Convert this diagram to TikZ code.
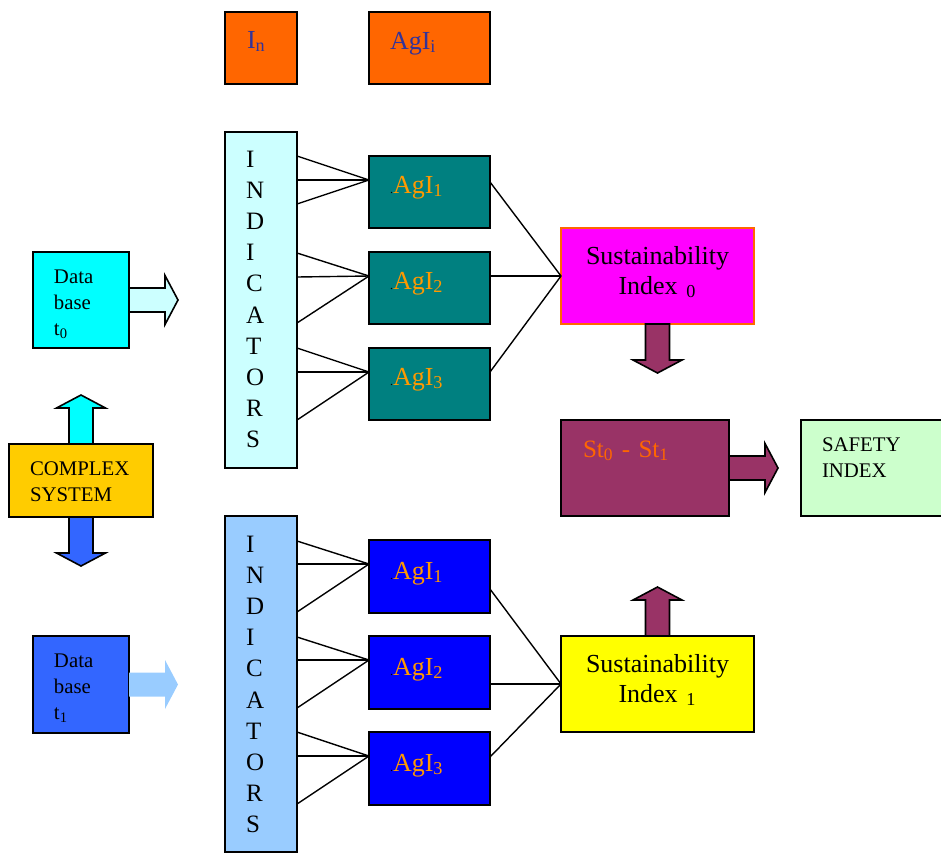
\documentclass[tikz,border=0pt]{standalone}
\usepackage{fontspec}
\setmainfont{Liberation Serif}
\usetikzlibrary{positioning}

\definecolor{inOrange}{HTML}{FF6600}
\definecolor{inBlue}{HTML}{333399}
\definecolor{indCyan}{HTML}{CCFFFF}
\definecolor{indBlue}{HTML}{99CCFF}
\definecolor{agTeal}{HTML}{008080}
\definecolor{agBlue}{HTML}{0000FF}
\definecolor{agGold}{HTML}{FF9900}
\definecolor{siMagenta}{HTML}{FF00FF}
\definecolor{siYellow}{HTML}{FFFF00}
\definecolor{siMaroon}{HTML}{993366}
\definecolor{safeGreen}{HTML}{CCFFCC}
\definecolor{dbCyan}{HTML}{00FFFF}
\definecolor{dbBlue}{HTML}{3366FF}
\definecolor{cplxGold}{HTML}{FFCC00}

\newcommand{\tinydot}{{\color{black}\fontsize{6}{6}\selectfont.}}

\begin{document}
\begin{tikzpicture}[x = 0.5pt, y = -0.5pt,
    panel/.style = { draw, line width = .8pt, anchor = north west, align = left, inner ysep = 0pt, outer sep = 0pt },
    big/.style = { font = \fontsize{13}{15}\selectfont },
    small/.style = { font = \fontsize{10.4}{13}\selectfont },
    letters/.style = { font = \fontsize{12.5}{15.6}\selectfont },
    agi/.style = { panel, text = agGold, big, inner xsep = 10.5pt, text width = 39.5pt, text height = 18.5pt, text depth = 17.5pt },
    sindex/.style = { panel, big, align = center, inner xsep = 4pt, text width = 88.5pt, text height = 18pt, text depth = 30pt },
    link/.style = { line width = .7pt },
    fat arrow/.pic = { \path[pic actions, line width = .8pt] (0,-12) -- (36,-12) -- (36,-24.5) -- (49,0) -- (36,24.5) -- (36,12) -- (0,12) -- cycle; }
  ]
    \useasboundingbox (0,0) rectangle (941,852);

    % legend
    \node [panel, fill = inOrange, text = inBlue, big, inner xsep = 11pt, text width = 14pt, text height = 18pt, text depth = 18pt] (inBox) at (225,12) { I\textsubscript{n} };
    \node [panel, fill = inOrange, text = inBlue, big, inner xsep = 10.5pt, text width = 39.5pt, text height = 18.5pt, text depth = 17.5pt, right = 36pt of inBox] (agiBox) { AgI\textsubscript{i} };

    % left column
    \node [panel, fill = dbCyan, small, inner xsep = 10.5pt, text width = 27pt, text height = 15.5pt, text depth = 32.5pt] (db0) at (33,252) { Data\\base\\t\textsubscript{0} };
    \node [panel, fill = cplxGold, small, inner xsep = 10.5pt, text width = 51pt, text height = 15.5pt, text depth = 21pt] (cplx) at (9,444) { COMPLEX\\SYSTEM };
    \node [panel, fill = dbBlue, small, inner xsep = 10.5pt, text width = 27pt, text height = 15.5pt, text depth = 33pt] (db1) at (33,636) { Data\\base\\t\textsubscript{1} };

    % indicators
    \node [panel, fill = indCyan, letters, inner xsep = 10.5pt, text width = 15pt, text height = 17.5pt, text depth = 150.5pt] (ind0) at (225,132) { I\\N\\D\\I\\C\\A\\T\\O\\R\\S };
    \node [panel, fill = indBlue, letters, inner xsep = 10.5pt, text width = 15pt, text height = 18pt, text depth = 150pt, below = 24pt of ind0] (ind1) { I\\N\\D\\I\\C\\A\\T\\O\\R\\S };

    % aggregated indicators
    \node [agi, fill = agTeal] (agA0) at (369,156) { \tinydot AgI\textsubscript{1} };
    \node [agi, fill = agTeal, below = 12pt of agA0] (agB0) { \tinydot AgI\textsubscript{2} };
    \node [agi, fill = agTeal, below = 12pt of agB0] (agC0) { \tinydot AgI\textsubscript{3} };
    \node [agi, fill = agBlue, text height = 19.5pt, text depth = 17pt] (agA1) at (369,540) { \tinydot AgI\textsubscript{1} };
    \node [agi, fill = agBlue, text height = 19.5pt, text depth = 17pt, below = 11.5pt of agA1] (agB1) { \tinydot AgI\textsubscript{2} };
    \node [agi, fill = agBlue, text height = 19.5pt, text depth = 17pt, below = 11.5pt of agB1] (agC1) { \tinydot AgI\textsubscript{3} };

    % indices
    \node [sindex, fill = siMagenta, draw = inOrange] (si0) at (561,228) { Sustainability\\Index \textsubscript{0} };
    \node [sindex, fill = siYellow] (si1) at (561,636) { Sustainability\\Index \textsubscript{1} };
    \node [panel, fill = siMaroon, text = inOrange, font = \fontsize{12.5}{15}\selectfont, inner xsep = 11pt, text width = 62pt, text height = 18.5pt, text depth = 29.5pt] (diff) at (561,420) { St\textsubscript{0} - St\textsubscript{1} };
    \node [panel, fill = safeGreen, small, inner xsep = 10.5pt, text width = 50.5pt, text height = 15.5pt, text depth = 32.5pt, right = 36pt of diff.north east, anchor = north west] (safety) { SAFETY\\INDEX };

    % links
    \foreach \y in {156,180,204} \draw [link] (ind0.east |- 0,\y) -- ([yshift = 6pt]agA0.west);
    \foreach \y in {253,277,323} \draw [link] (ind0.east |- 0,\y) -- ([yshift = 6pt]agB0.west);
    \foreach \y in {348,372,420} \draw [link] (ind0.east |- 0,\y) -- ([yshift = 6pt]agC0.west);
    \foreach \y in {541,564,612} \draw [link] (ind1.east |- 0,\y) -- ([yshift = 6.25pt]agA1.west);
    \foreach \y in {637,660,708} \draw [link] (ind1.east |- 0,\y) -- ([yshift = 6.25pt]agB1.west);
    \foreach \y in {732,756,804} \draw [link] (ind1.east |- 0,\y) -- ([yshift = 6.25pt]agC1.west);
    \foreach \n/\s in {agA0/5pt, agB0/6pt, agC0/6pt} \draw [link] ([yshift = \s]\n.east) -- (si0.west);
    \foreach \n/\s in {agA1/-6.25pt, agB1/-5.75pt, agC1/5.75pt} \draw [link] ([yshift = \s]\n.east) -- (si1.west);

    % block arrows
    \pic [draw, fill = indCyan] at (db0.east) {fat arrow};
    \pic [fill = indBlue] at (db1.east) {fat arrow};
    \pic [draw, fill = dbCyan, rotate = 90] at (cplx.north) {fat arrow};
    \pic [draw, fill = dbBlue, rotate = -90] at (cplx.south) {fat arrow};
    \pic [draw, fill = siMaroon, rotate = -90] at (si0.south) {fat arrow};
    \pic [draw, fill = siMaroon, rotate = 90] at (si1.north) {fat arrow};
    \pic [draw, fill = siMaroon] at (diff.east) {fat arrow};
\end{tikzpicture}
\end{document}
